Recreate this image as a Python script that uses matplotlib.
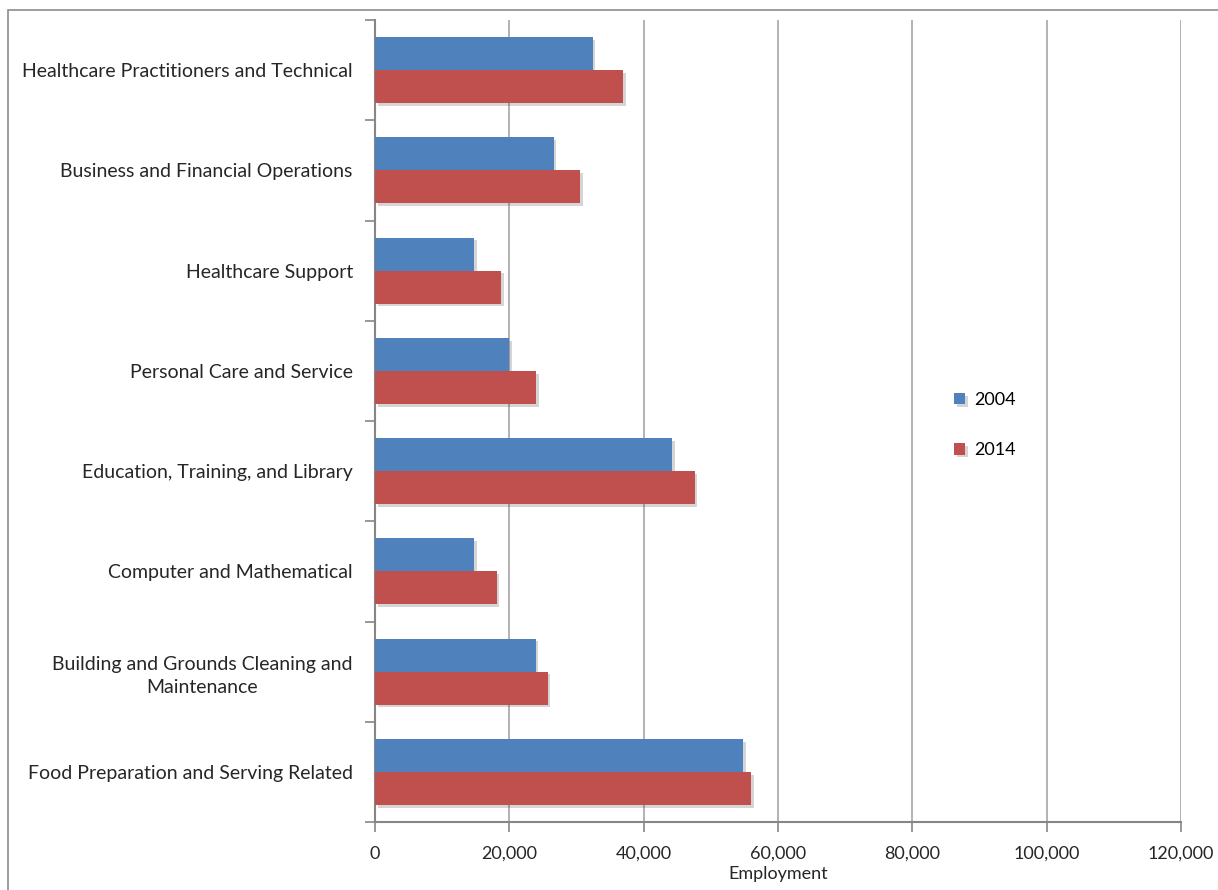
import matplotlib.pyplot as plt
import matplotlib.patheffects as pe
from matplotlib.patches import Rectangle
from matplotlib.ticker import FuncFormatter, FixedLocator
import numpy as np

plt.rcParams['font.family'] = ['Lato', 'DejaVu Sans']

categories = [
    "Healthcare Practitioners and Technical",
    "Business and Financial Operations",
    "Healthcare Support",
    "Personal Care and Service",
    "Education, Training, and Library",
    "Computer and Mathematical",
    "Building and Grounds Cleaning and\nMaintenance",
    "Food Preparation and Serving Related",
]
emp_2004 = [32400, 26600, 14800, 20000, 44200, 14800, 23900, 54800]
emp_2014 = [36900, 30500, 18800, 24000, 47600, 18100, 25700, 56000]
series_names = ["2004", "2014"]
colors = ["#4F81BD", "#C0504D"]

fig = plt.figure(figsize=(12.18, 8.9), dpi=100)
ax = fig.add_axes([375 / 1218, 1 - 822 / 890, 806 / 1218, 802 / 890])

# outer chart border
fig.patches.append(Rectangle((8 / 1218, -0.05), 1.2, 1.05 - 10 / 890,
                             transform=fig.transFigure, fill=False,
                             edgecolor="#8C8C8C", linewidth=1.2))

y = np.arange(len(categories))
h = 0.33
shadow = [pe.SimplePatchShadow(offset=(2, -2), alpha=0.22, shadow_rgbFace="#404040"), pe.Normal()]
for vals, off, name, col in zip([emp_2004, emp_2014], [-h / 2, h / 2], series_names, colors):
    bars = ax.barh(y + off, vals, height=h, color=col, label=name, zorder=3)
    for b in bars:
        b.set_path_effects(shadow)

ax.set_xlim(0, 120000)
ax.set_ylim(len(categories) - 0.5, -0.5)
ax.set_xticks(np.arange(0, 120001, 20000))
ax.xaxis.set_major_formatter(FuncFormatter(lambda v, p: f"{int(v):,}"))
ax.grid(axis="x", color="#A6A6A6", linewidth=1.2, zorder=0)

ax.yaxis.set_major_locator(FixedLocator(np.arange(-0.5, len(categories) + 0.5, 1)))
ax.yaxis.set_major_formatter(FuncFormatter(lambda v, p: ""))
ax.yaxis.set_minor_locator(FixedLocator(y))
ax.set_yticklabels(categories, minor=True, ha="right", multialignment="center", linespacing=1.45)
ax.tick_params(axis="y", which="minor", length=0, pad=16, labelsize=14, labelcolor="#262626")
ax.tick_params(axis="y", which="major", length=7, color="#868686", width=1.2)
ax.tick_params(axis="x", length=7, color="#868686", width=1.2, labelsize=13,
               labelcolor="#262626", pad=10)

for s in ["top", "right"]:
    ax.spines[s].set_visible(False)
for s in ["left", "bottom"]:
    ax.spines[s].set_color("#868686")
    ax.spines[s].set_linewidth(1.5)

ax.set_xlabel("Employment", fontsize=13, color="#262626", labelpad=3)

ax.legend(loc="center left", bbox_to_anchor=(938 / 1218, 1 - 425 / 890),
          bbox_transform=fig.transFigure, frameon=False, fontsize=13,
          handlelength=0.6, handleheight=0.6, handletextpad=0.5, labelspacing=1.9)

fig.savefig("out.png", dpi=100)
